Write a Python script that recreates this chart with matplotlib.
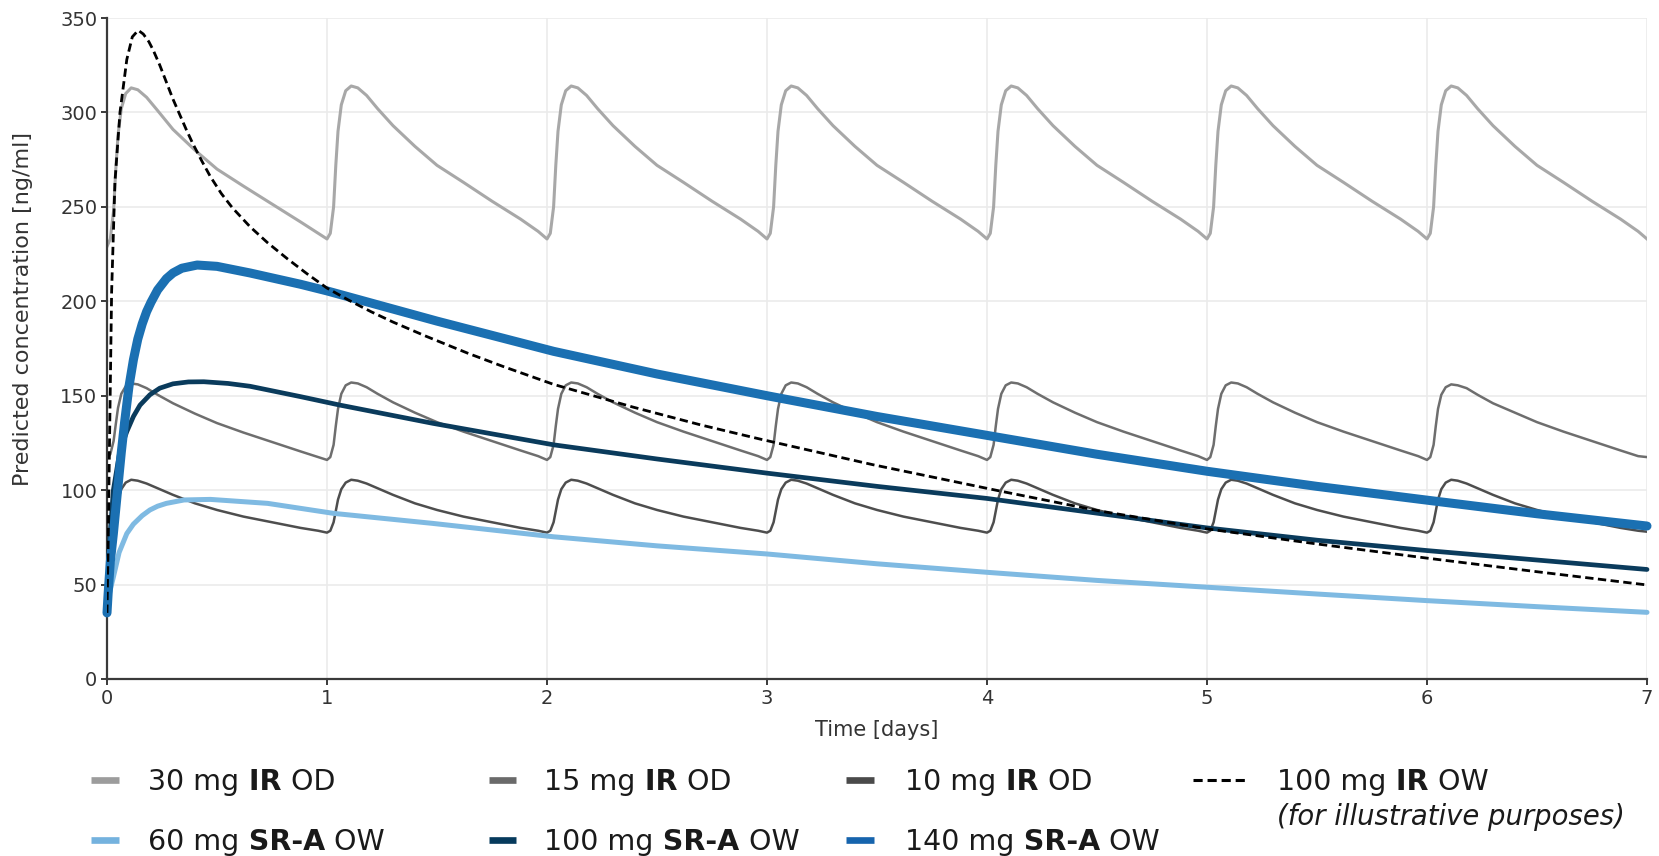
import matplotlib
matplotlib.use('Agg')
import matplotlib.pyplot as plt
from matplotlib.lines import Line2D

# Time grid of the once-daily IR curves (days)
ir_t = [
    0.00, 0.015, 0.03, 0.04, 0.05, 0.065, 0.085, 0.11, 0.14, 0.18, 0.23, 0.30, 0.40, 0.50, 0.62, 0.75, 0.88, 0.96,
    1.00, 1.015, 1.03, 1.04, 1.05, 1.065, 1.085, 1.11, 1.14, 1.18, 1.23, 1.30, 1.40, 1.50, 1.62, 1.75, 1.88, 1.96,
    2.00, 2.015, 2.03, 2.04, 2.05, 2.065, 2.085, 2.11, 2.14, 2.18, 2.23, 2.30, 2.40, 2.50, 2.62, 2.75, 2.88, 2.96,
    3.00, 3.015, 3.03, 3.04, 3.05, 3.065, 3.085, 3.11, 3.14, 3.18, 3.23, 3.30, 3.40, 3.50, 3.62, 3.75, 3.88, 3.96,
    4.00, 4.015, 4.03, 4.04, 4.05, 4.065, 4.085, 4.11, 4.14, 4.18, 4.23, 4.30, 4.40, 4.50, 4.62, 4.75, 4.88, 4.96,
    5.00, 5.015, 5.03, 5.04, 5.05, 5.065, 5.085, 5.11, 5.14, 5.18, 5.23, 5.30, 5.40, 5.50, 5.62, 5.75, 5.88, 5.96,
    6.00, 6.015, 6.03, 6.04, 6.05, 6.065, 6.085, 6.11, 6.14, 6.18, 6.23, 6.30, 6.40, 6.50, 6.62, 6.75, 6.88, 6.96,
    7.00,
]
ir30_od = [
    229, 233, 248, 270, 288, 302, 310, 313, 312, 308, 301, 291, 280, 270, 261, 251.5, 242, 236,
    233, 236, 250, 272, 290, 304, 311.5, 314, 313, 309, 302, 293, 282, 272, 263, 253, 243.5, 237,
    233, 236, 250, 272, 290, 304, 311.5, 314, 313, 309, 302, 293, 282, 272, 263, 253, 243.5, 237,
    233, 236, 250, 272, 290, 304, 311.5, 314, 313, 309, 302, 293, 282, 272, 263, 253, 243.5, 237,
    233, 236, 250, 272, 290, 304, 311.5, 314, 313, 309, 302, 293, 282, 272, 263, 253, 243.5, 237,
    233, 236, 250, 272, 290, 304, 311.5, 314, 313, 309, 302, 293, 282, 272, 263, 253, 243.5, 237,
    233, 236, 250, 272, 290, 304, 311.5, 314, 313, 309, 302, 293, 282, 272, 263, 253, 243.5, 237,
    233,
]
ir15_od = [
    117, 119, 126, 135, 143.5, 151, 155, 156.5, 156, 154, 150.5, 146, 140.5, 135.5, 130.5, 125.5, 120.5, 117.5,
    116, 117.5, 124, 134, 143, 151, 155.5, 157, 156.5, 154.5, 151, 146.5, 141, 136, 131, 126, 121, 118,
    116, 117.5, 124, 134, 143, 151, 155.5, 157, 156.5, 154.5, 151, 146.5, 141, 136, 131, 126, 121, 118,
    116, 117.5, 124, 134, 143, 151, 155.5, 157, 156.5, 154.5, 151, 146.5, 141, 136, 131, 126, 121, 118,
    116, 117.5, 124, 134, 143, 151, 155.5, 157, 156.5, 154.5, 151, 146.5, 141, 136, 131, 126, 121, 118,
    116, 117.5, 124, 134, 143, 151, 155.5, 157, 156.5, 154.5, 151, 146.5, 141, 136, 131, 126, 121, 118,
    116, 117.5, 124, 134, 143, 150.5, 154.5, 156, 155.5, 154, 150.5, 146, 141, 136, 131, 126, 121, 118,
    117.5,
]
ir10_od = [
    78, 79, 83.5, 89, 95, 100.5, 104, 105.5, 105, 103.5, 101, 97.5, 93, 89.5, 86, 83, 80, 78.5,
    77.5, 78.5, 83, 89, 95, 100.5, 104, 105.5, 105, 103.5, 101, 97.5, 93, 89.5, 86, 83, 80, 78.5,
    77.5, 78.5, 83, 89, 95, 100.5, 104, 105.5, 105, 103.5, 101, 97.5, 93, 89.5, 86, 83, 80, 78.5,
    77.5, 78.5, 83, 89, 95, 100.5, 104, 105.5, 105, 103.5, 101, 97.5, 93, 89.5, 86, 83, 80, 78.5,
    77.5, 78.5, 83, 89, 95, 100.5, 104, 105.5, 105, 103.5, 101, 97.5, 93, 89.5, 86, 83, 80, 78.5,
    77.5, 78.5, 83, 89, 95, 100.5, 104, 105.5, 105, 103.5, 101, 97.5, 93, 89.5, 86, 83, 80, 78.5,
    77.5, 78.5, 83, 89, 95, 100.5, 104, 105.5, 105, 103.5, 101, 97.5, 93, 89.5, 86, 83, 80, 78.5,
    78,
]

# 100 mg IR once weekly
ow_t = [0, 0.005, 0.012, 0.021, 0.036, 0.059, 0.09, 0.115, 0.142, 0.165, 0.19, 0.21,
        0.24, 0.27, 0.30, 0.33, 0.36, 0.39, 0.43, 0.47, 0.52, 0.57, 0.65, 0.73, 0.82,
        0.91, 1.0, 1.1, 1.2, 1.3, 1.45, 1.64, 1.8, 2.03, 2.39, 2.7, 2.97, 3.48, 4.06,
        4.51, 5.0, 5.5, 6.0, 6.5, 7.0]
ir100_ow = [35, 70, 130, 205, 263, 300, 328, 340, 343.5, 341.5, 337.5, 333,
            325, 316, 307, 299, 291, 283.5, 274.5, 266, 257, 249.5, 239.5, 231, 222.5,
            214.5, 207, 200.5, 194.5, 189, 181.5, 172.5, 165.5, 156, 144, 134.5, 127, 113.5, 99.5,
            89, 79.5, 71.5, 64, 56.8, 49.8]

# SR-A once weekly
sr140_t = [0, 0.005, 0.015, 0.029, 0.044, 0.065, 0.08, 0.1, 0.12, 0.14, 0.16, 0.18,
           0.2, 0.23, 0.27, 0.3, 0.34, 0.41, 0.5, 0.65, 0.88, 1.0, 1.5, 2.03, 2.5,
           3.0, 3.5, 4.0, 4.5, 5.0, 5.5, 6.0, 6.5, 7.0]
sr140 = [35, 45, 62, 77, 95, 120, 136, 155, 169, 180, 188, 194.5,
         199.5, 206, 212, 215, 217.5, 219.2, 218.5, 215, 209, 205.5, 189.5, 173.5, 161.5,
         150, 139, 129, 119, 110, 102, 94.7, 87.5, 81]
sr100_t = [0, 0.01, 0.029, 0.059, 0.09, 0.12, 0.15, 0.195, 0.24, 0.3, 0.37, 0.44, 0.55,
           0.65, 0.88, 1.06, 1.48, 2.03, 2.5, 3.0, 3.5, 4.0, 4.5, 5.0, 5.5, 6.0, 6.5, 7.0]
sr100 = [35, 70, 100, 121, 131, 139, 145, 150.5, 154, 156.3, 157.3, 157.4, 156.5,
         155, 149.5, 145, 135.4, 124, 116.5, 109, 102, 95.6, 87.8, 80, 73.5, 68, 63, 58]
sr60_t = [0, 0.01, 0.029, 0.055, 0.09, 0.12, 0.16, 0.195, 0.23, 0.27, 0.35, 0.47, 0.73,
          1.03, 1.48, 2.03, 2.5, 3.0, 3.5, 4.0, 4.5, 5.0, 5.5, 6.0, 6.5, 7.0]
sr60 = [35, 45, 54, 67, 77, 82, 86.5, 89.5, 91.5, 93, 94.8, 95.1, 93,
        87.7, 82.4, 75.3, 70.5, 66.2, 61, 56.5, 52.2, 48.6, 45, 41.5, 38.3, 35.3]

x_ticks = [0, 1, 2, 3, 4, 5, 6, 7]
y_ticks = [0, 50, 100, 150, 200, 250, 300, 350]

c30, c15, c10 = '#a8a8a8', '#6e6e6e', '#4e4e4e'
c60, c100, c140 = '#7fbae2', '#0a3b5c', '#1b70b2'

W, H = 1659, 856
fig = plt.figure(figsize=(W / 100, H / 100), dpi=100)
ax = fig.add_axes([107 / W, 1 - 679 / H, 1540 / W, 661 / H])

ax.plot(ir_t, ir30_od, color=c30, lw=2.2, zorder=2)
ax.plot(ir_t, ir15_od, color=c15, lw=1.8, zorder=2)
ax.plot(ir_t, ir10_od, color=c10, lw=1.8, zorder=2)
ax.plot(sr60_t, sr60, color=c60, lw=3.6, zorder=3, solid_capstyle='round', clip_on=False)
ax.plot(sr100_t, sr100, color=c100, lw=3.4, zorder=3, solid_capstyle='round', clip_on=False)
ax.plot(sr140_t, sr140, color=c140, lw=6.5, zorder=3, solid_capstyle='round', clip_on=False)
ax.plot(ow_t, ir100_ow, color='black', lw=2.0, ls=(0, (3, 1.6)), zorder=4)

ax.set_xlim(0, 7)
ax.set_ylim(0, 350)
ax.set_xticks(x_ticks)
ax.set_yticks(y_ticks)
ax.grid(True, color='#ebebeb', lw=1.2)
ax.set_axisbelow(True)
for s in ['top', 'right']:
    ax.spines[s].set_visible(False)
for s in ['left', 'bottom']:
    ax.spines[s].set_color('#3a3a3a')
    ax.spines[s].set_linewidth(1.6)
ax.tick_params(direction='out', length=4, width=1.4, color='#3a3a3a',
               labelsize=14, labelcolor='#333333', pad=3)

ax.set_xlabel('Time [days]', fontsize=15, color='#333333')
ax.xaxis.set_label_coords(0.5, -0.062)
ax.set_ylabel('Predicted concentration [ng/ml]', fontsize=16, color='#333333')
ax.yaxis.set_label_coords(-0.048, 0.56)

# legend drawn by hand: swatch + text runs with bold parts
leg_fs = 20.5
leg_col = '#1a1a1a'


def rich_chain(px, py, pieces):
    prev = fig.text(px / W, 1 - py / H, pieces[0][0], fontsize=leg_fs, color=leg_col,
                    fontweight=pieces[0][1], va='baseline', ha='left')
    for s, w in pieces[1:]:
        prev = ax.annotate(s, xy=(1, 0), xycoords=prev, va='bottom', ha='left',
                           fontsize=leg_fs, color=leg_col, fontweight=w,
                           annotation_clip=False)


legend_entries = [
    # (swatch x0, x1, row centre y, text x, colour, dashed, pieces)
    (91, 119, 780, 148, '#9c9c9c', False,
     [('30 mg', 'normal'), (' IR', 'bold'), (' OD', 'normal')]),
    (489, 516, 780, 544, '#6a6a6a', False,
     [('15 mg', 'normal'), (' IR', 'bold'), (' OD', 'normal')]),
    (846, 874, 780, 905, '#4a4a4a', False,
     [('10 mg', 'normal'), (' IR', 'bold'), (' OD', 'normal')]),
    (1193, 1246, 780, 1277, 'black', True,
     [('100 mg', 'normal'), (' IR', 'bold'), (' OW', 'normal')]),
    (91, 119, 840, 148, '#74b2de', False,
     [('60 mg', 'normal'), (' SR-A', 'bold'), (' OW', 'normal')]),
    (489, 516, 840, 544, '#063a5c', False,
     [('100 mg', 'normal'), (' SR-A', 'bold'), (' OW', 'normal')]),
    (846, 874, 840, 905, '#1664ad', False,
     [('140 mg', 'normal'), (' SR-A', 'bold'), (' OW', 'normal')]),
]

for x0, x1, yc, tx, col, dashed, pieces in legend_entries:
    if dashed:
        ln = Line2D([x0 / W, x1 / W], [1 - yc / H, 1 - yc / H], transform=fig.transFigure,
                    color=col, lw=2.2, ls=(0, (3, 1.6)))
    else:
        ln = Line2D([x0 / W, x1 / W], [1 - yc / H, 1 - yc / H], transform=fig.transFigure,
                    color=col, lw=4.8, solid_capstyle='butt')
    fig.add_artist(ln)
    rich_chain(tx, yc + 10, pieces)

fig.text(1277 / W, 1 - 825 / H, '(for illustrative purposes)', fontsize=19.8,
         color=leg_col, style='italic', va='baseline', ha='left')

fig.savefig('out.png', dpi=100)
